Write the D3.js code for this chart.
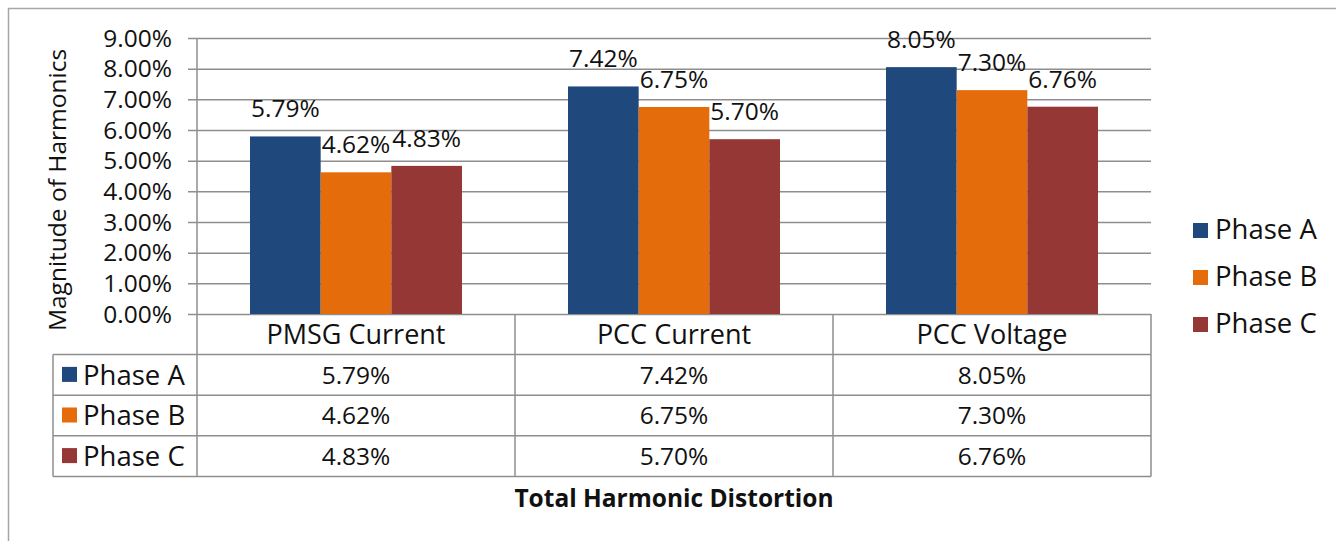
<!DOCTYPE html>
<html>
<head>
<meta charset="utf-8">
<script src="https://cdn.jsdelivr.net/npm/d3@7"></script>
<style>
  html, body { margin: 0; padding: 0; background: #fff; }
  svg { display: block; }
  text { font-family: "Open Sans", "DejaVu Sans", sans-serif; fill: #111; }
</style>
</head>
<body>
<svg id="chart" width="1336" height="541"></svg>
<script>
// Total harmonic distortion per phase, three measuring points
const categories = ["PMSG Current", "PCC Current", "PCC Voltage"];
const seriesNames = ["Phase A", "Phase B", "Phase C"];
const phaseA = [0.0579, 0.0742, 0.0805];
const phaseB = [0.0462, 0.0675, 0.0730];
const phaseC = [0.0483, 0.0570, 0.0676];
const seriesColors = ["#1F497D", "#E46C0A", "#953735"];
const yTicks = [0, 0.01, 0.02, 0.03, 0.04, 0.05, 0.06, 0.07, 0.08, 0.09];
const yTitle = "Magnitude of Harmonics";
const xTitle = "Total Harmonic Distortion";

const values = [phaseA, phaseB, phaseC];
const fmt = d3.format(".2%");

const svg = d3.select("#chart");
const gridColor = "#8e8e8e";
const numSize = 24.5;
const wordSize = 27.5;

// Plot frame
const plot = { left: 197, right: 1151, top: 38, bottom: 314 };
const table = { left: 53, rowH: 40.6 };

// Outer chart border (runs off the page on the right and bottom)
svg.append("path")
  .attr("d", "M8.5,560 V8.5 H1400")
  .attr("fill", "none").attr("stroke", "#a6a6a6").attr("stroke-width", 1.5);

const y = d3.scaleLinear().domain([0, 0.09]).range([plot.bottom, plot.top]);
const x0 = d3.scaleBand().domain(categories).range([plot.left, plot.right]).padding(0);
const x1 = d3.scaleBand().domain(seriesNames).range([0, x0.bandwidth()])
  .paddingInner(0).paddingOuter(0.75);

// Gridlines with outward tick marks
const yAxis = d3.axisLeft(y).tickValues(yTicks)
  .tickSize(plot.right - plot.left + 9).tickFormat("");
const gy = svg.append("g")
  .attr("transform", `translate(${plot.right},0)`)
  .call(yAxis);
gy.select(".domain").remove();
gy.selectAll(".tick line").attr("stroke", gridColor).attr("stroke-width", 1.5);

// Tick labels
svg.append("g").selectAll("text")
  .data(yTicks).join("text")
  .attr("x", 172).attr("y", d => y(d))
  .attr("dy", "0.36em")
  .attr("text-anchor", "end")
  .attr("font-size", numSize)
  .text(d => fmt(d));

// Bars
const groups = svg.append("g").selectAll("g")
  .data(categories).join("g")
  .attr("transform", d => `translate(${x0(d)},0)`);

groups.selectAll("rect")
  .data((c, i) => seriesNames.map((s, k) => ({ s, k, v: values[k][i] })))
  .join("rect")
  .attr("x", d => x1(d.s))
  .attr("y", d => y(d.v))
  .attr("width", x1.bandwidth())
  .attr("height", d => y(0) - y(d.v))
  .attr("fill", d => seriesColors[d.k]);

// Value labels above bars
groups.selectAll("text")
  .data((c, i) => seriesNames.map((s, k) => ({ s, k, v: values[k][i] })))
  .join("text")
  .attr("x", d => x1(d.s) + x1.bandwidth() / 2)
  .attr("y", d => y(d.v) - 19)
  .attr("text-anchor", "middle")
  .attr("font-size", numSize)
  .text(d => fmt(d.v));

// Data table under the plot
const rowsTop = plot.bottom + table.rowH;
const tableBottom = plot.bottom + table.rowH * 4;
const lines = svg.append("g").attr("stroke", gridColor).attr("stroke-width", 1.5);

// Vertical axis line continuing through the table
lines.append("line")
  .attr("x1", plot.left).attr("x2", plot.left)
  .attr("y1", plot.top).attr("y2", tableBottom);
// Column dividers and right edge
categories.forEach((c, i) => {
  const xr = x0(c) + x0.bandwidth();
  lines.append("line")
    .attr("x1", xr).attr("x2", xr)
    .attr("y1", plot.bottom).attr("y2", tableBottom);
});
// Table left edge
lines.append("line")
  .attr("x1", table.left).attr("x2", table.left)
  .attr("y1", rowsTop).attr("y2", tableBottom);
// Row lines
[1, 2, 3, 4].forEach(r => {
  const yy = plot.bottom + table.rowH * r;
  lines.append("line")
    .attr("x1", table.left).attr("x2", plot.right)
    .attr("y1", yy).attr("y2", yy);
});

// Category header row
svg.append("g").selectAll("text")
  .data(categories).join("text")
  .attr("x", d => x0(d) + x0.bandwidth() / 2)
  .attr("y", plot.bottom + table.rowH / 2)
  .attr("dy", "0.36em")
  .attr("text-anchor", "middle")
  .attr("font-size", 27)
  .text(d => d);

// Series rows
seriesNames.forEach((s, k) => {
  const cy = rowsTop + table.rowH * k + table.rowH / 2;
  svg.append("rect")
    .attr("x", 62).attr("y", cy - 8).attr("width", 15).attr("height", 15)
    .attr("fill", seriesColors[k]);
  svg.append("text")
    .attr("x", 83).attr("y", cy).attr("dy", "0.36em")
    .attr("font-size", wordSize)
    .text(s);
  svg.append("g").selectAll("text")
    .data(categories).join("text")
    .attr("x", d => x0(d) + x0.bandwidth() / 2)
    .attr("y", cy).attr("dy", "0.36em")
    .attr("text-anchor", "middle")
    .attr("font-size", numSize)
    .text((d, i) => fmt(values[k][i]));
});

// Legend at right
const legend = svg.append("g").attr("transform", "translate(1193,223)");
seriesNames.forEach((s, k) => {
  const g = legend.append("g").attr("transform", `translate(0,${k * 47})`);
  g.append("rect").attr("width", 15).attr("height", 15).attr("fill", seriesColors[k]);
  g.append("text").attr("x", 22).attr("y", 16).attr("font-size", wordSize).text(s);
});

// Axis titles
svg.append("text")
  .attr("transform", `translate(66,${(plot.top + plot.bottom) / 2 + 14}) rotate(-90)`)
  .attr("text-anchor", "middle")
  .attr("font-size", 24.5)
  .text(yTitle);

svg.append("text")
  .attr("x", (plot.left + plot.right) / 2)
  .attr("y", 507)
  .attr("text-anchor", "middle")
  .attr("font-size", 24.5)
  .attr("font-weight", "bold")
  .text(xTitle);
</script>
</body>
</html>
